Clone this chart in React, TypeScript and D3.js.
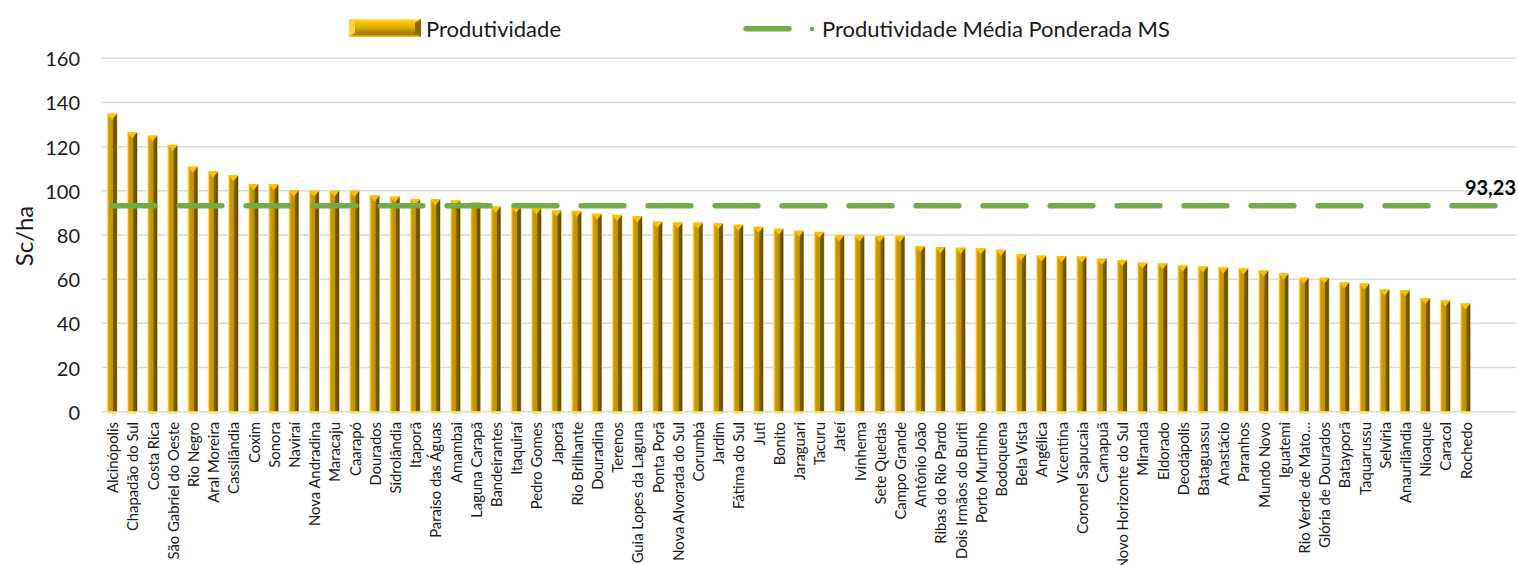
import React from "react";
import * as d3 from "d3";

const categories: string[] = [
  "Alcinópolis", "Chapadão do Sul", "Costa Rica", "São Gabriel do Oeste", "Rio Negro",
  "Aral Moreira", "Cassilândia", "Coxim", "Sonora", "Naviraí", "Nova Andradina",
  "Maracaju", "Caarapó", "Dourados", "Sidrolândia", "Itaporã", "Paraiso das Águas",
  "Amambai", "Laguna Carapã", "Bandeirantes", "Itaquiraí", "Pedro Gomes", "Japorã",
  "Rio Brilhante", "Douradina", "Terenos", "Guia Lopes da Laguna", "Ponta Porã",
  "Nova Alvorada do Sul", "Corumbá", "Jardim", "Fátima do Sul", "Juti", "Bonito",
  "Jaraguari", "Tacuru", "Jateí", "Ivinhema", "Sete Quedas", "Campo Grande",
  "Antônio João", "Ribas do Rio Pardo", "Dois Irmãos do Buriti", "Porto Murtinho",
  "Bodoquena", "Bela Vista", "Angélica", "Vicentina", "Coronel Sapucaia", "Camapuã",
  "Novo Horizonte do Sul", "Miranda", "Eldorado", "Deodápolis", "Bataguassu",
  "Anastácio", "Paranhos", "Mundo Novo", "Iguatemi", "Rio Verde de Mato…",
  "Glória de Dourados", "Batayporã", "Taquarussu", "Selvíria", "Anaurilândia",
  "Nioaque", "Caracol", "Rochedo",
];

const produtividade: number[] = [
  134.9, 126.5, 125.0, 120.8, 110.9,
  108.8, 107.0, 103.0, 103.0, 100.3, 100.0,
  100.0, 100.0, 97.9, 97.4, 96.2, 96.2,
  95.6, 94.7, 92.9, 92.8, 92.0, 91.1,
  90.9, 89.6, 89.1, 88.5, 86.0,
  85.7, 85.6, 85.3, 84.6, 83.7, 82.8,
  81.9, 81.4, 79.9, 79.8, 79.6, 79.6,
  74.9, 74.5, 74.2, 74.0,
  73.3, 71.3, 70.6, 70.4, 70.3, 69.3,
  68.7, 67.4, 67.1, 66.2, 65.7,
  65.3, 64.8, 63.9, 62.6, 60.6,
  60.6, 58.5, 58.0, 55.3, 55.0,
  51.4, 50.3, 49.0,
];

const mediaPonderada = 93.23;
const mediaLabel = "93,23";
const padSlots: string[] = ["__pad1", "__pad2"];
const yTicks: number[] = [0, 20, 40, 60, 80, 100, 120, 140, 160];
const seriesNames: string[] = ["Produtividade", "Produtividade Média Ponderada MS"];
const yTitle = "Sc/ha";

const FONT = "Lato, 'Open Sans', sans-serif";

export default function App() {
  const W = 1518;
  const H = 565;
  const left = 102;
  const right = 1516;
  const top = 58.3;
  const bottom = 411.7;

  const domain = [...categories, ...padSlots];
  const x = d3.scaleBand<string>().domain(domain).range([left, right]).paddingInner(0.5).paddingOuter(0.25);
  const y = d3.scaleLinear().domain([0, 160]).range([bottom, top]);
  const bw = x.bandwidth();

  const linePts: [number, number][] = domain.map((c) => [(x(c) as number) + bw / 2, y(mediaPonderada)]);
  const linePath = d3.line()(linePts) as string;

  return (
    <svg width={W} height={H} style={{ position: "absolute", left: 0, top: 0, background: "#fff" }} fontFamily={FONT}>
      <defs>
        <linearGradient id="barGrad" x1="0" x2="1" y1="0" y2="0">
          <stop offset="0%" stopColor="#FFE38A" />
          <stop offset="12%" stopColor="#E2B00E" />
          <stop offset="22%" stopColor="#C99A05" />
          <stop offset="55%" stopColor="#C29300" />
          <stop offset="63%" stopColor="#7E5F00" />
          <stop offset="100%" stopColor="#5E4700" />
        </linearGradient>
        <linearGradient id="legGrad" x1="0" x2="0" y1="0" y2="1">
          <stop offset="0%" stopColor="#FFE066" />
          <stop offset="18%" stopColor="#FFC000" />
          <stop offset="45%" stopColor="#E0B000" />
          <stop offset="60%" stopColor="#C49A00" />
          <stop offset="85%" stopColor="#9C7800" />
          <stop offset="100%" stopColor="#FFD700" />
        </linearGradient>
      </defs>

      {/* gridlines */}
      {yTicks.map((t) => (
        <line key={t} x1={left} x2={right} y1={y(t)} y2={y(t)} stroke="#D9D9D9" strokeWidth={1.5} />
      ))}

      {/* y tick labels */}
      {yTicks.map((t) => (
        <text key={"l" + t} x={80} y={y(t)} textAnchor="end" dominantBaseline="central" fontSize={20} fill="#1a1a1a">
          {t}
        </text>
      ))}

      <text
        transform={`translate(23,236) rotate(-90)`}
        textAnchor="middle"
        dominantBaseline="central"
        fontSize={24}
        fill="#1a1a1a"
      >
        {yTitle}
      </text>

      {/* bars */}
      {categories.map((c, i) => {
        const bx = x(c) as number;
        const by = y(produtividade[i]);
        const bh = bottom - by;
        return (
          <g key={c}>
            <rect x={bx} y={by} width={bw} height={bh} fill="url(#barGrad)" stroke="#FFE699" strokeWidth={0.6} />
            <polygon
              points={`${bx},${by} ${bx + bw},${by} ${bx + bw / 2},${by + 6}`}
              fill="#FFC000"
            />
            <rect x={bx} y={bottom} width={bw} height={2} fill="#FFE066" />
          </g>
        );
      })}

      {/* average line */}
      <path
        d={linePath}
        fill="none"
        stroke="#70AD47"
        strokeWidth={5.5}
        strokeLinecap="round"
        strokeDasharray="42.8 24.2"
      />
      <text x={right} y={195} textAnchor="end" fontSize={20} fontWeight="bold" fill="#000">
        {mediaLabel}
      </text>

      {/* category labels */}
      {categories.map((c) => {
        const cx = (x(c) as number) + bw / 2;
        return (
          <text
            key={"c" + c}
            transform={`translate(${cx},422) rotate(-90)`}
            textAnchor="end"
            dominantBaseline="central"
            fontSize={14.8}
            fill="#1a1a1a"
          >
            {c}
          </text>
        );
      })}

      {/* legend */}
      <g>
        <rect x={349} y={19} width={72} height={18} fill="url(#legGrad)" />
        <polygon points="349,19 355,23 355,33 349,37" fill="#FFD24D" />
        <polygon points="421,19 415,23 415,33 421,37" fill="#8A6A00" />
        <text x={426} y={28} dominantBaseline="central" fontSize={22} fill="#1a1a1a">
          {seriesNames[0]}
        </text>
        <line x1={746} x2={789} y1={28.7} y2={28.7} stroke="#70AD47" strokeWidth={5.5} strokeLinecap="round" />
        <circle cx={812} cy={29} r={2.3} fill="#70AD47" />
        <text x={822} y={28} dominantBaseline="central" fontSize={22} fill="#1a1a1a">
          {seriesNames[1]}
        </text>
      </g>
    </svg>
  );
}
